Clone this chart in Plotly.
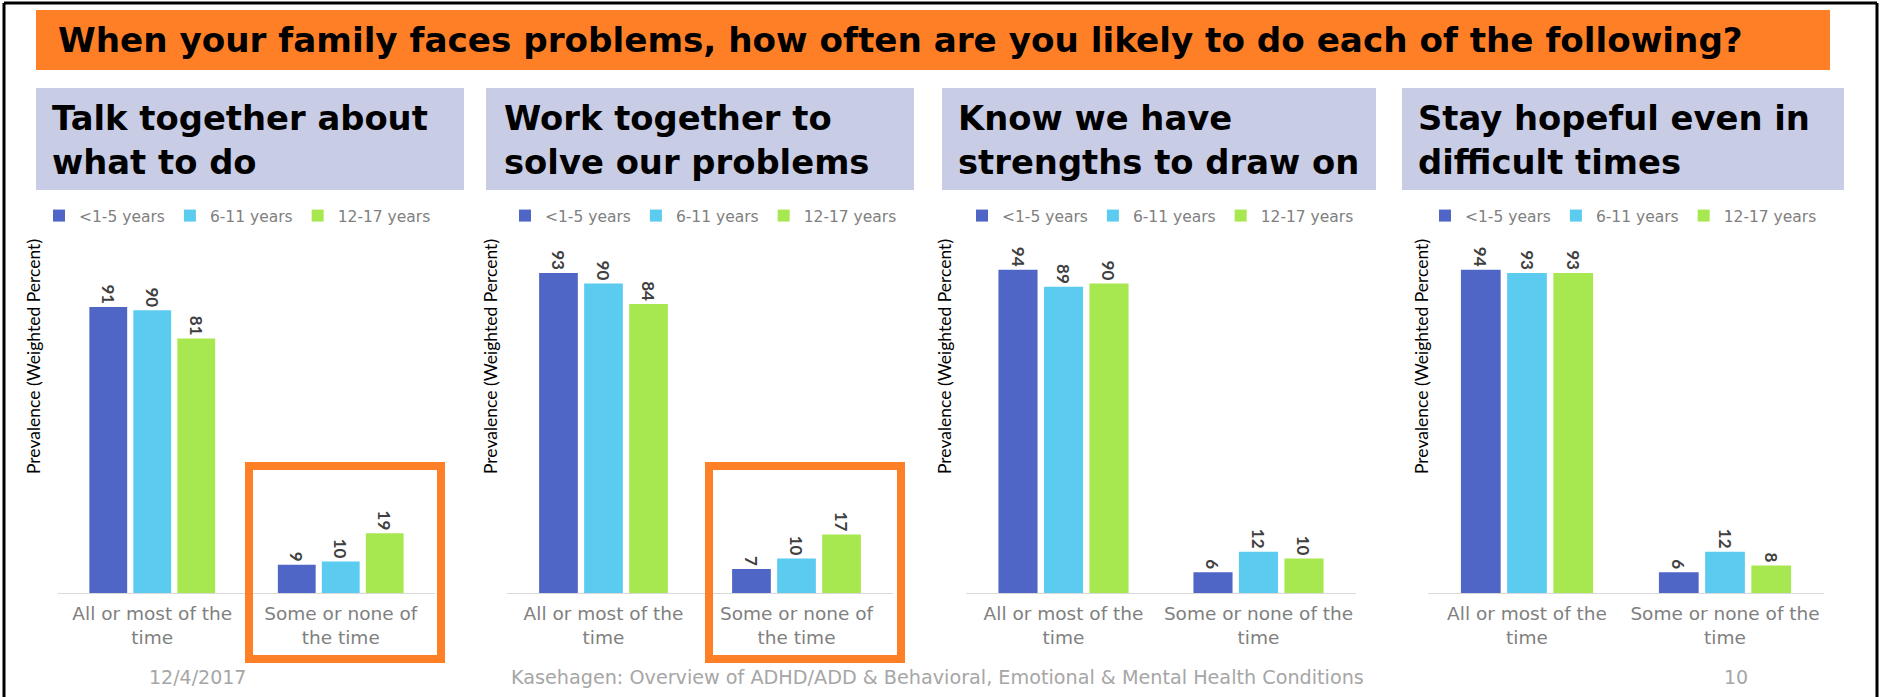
import plotly.graph_objects as go

W, H = 1881, 697

# ---------------- data ----------------
age_groups = ["<1-5 years", "6-11 years", "12-17 years"]
categories = ["All or most of the time", "Some or none of the time"]

panel_titles = [
    "Talk together about<br>what to do",
    "Work together to<br>solve our problems",
    "Know we have<br>strengths to draw on",
    "Stay hopeful even in<br>difficult times",
]

talk_vals = [[91, 9], [90, 10], [81, 19]]
work_vals = [[93, 7], [90, 10], [84, 17]]
know_vals = [[94, 6], [89, 12], [90, 10]]
hope_vals = [[94, 6], [93, 12], [93, 8]]
panel_values = [talk_vals, work_vals, know_vals, hope_vals]

ticks_wrap_a = ["All or most of the<br>time", "Some or none of<br>the time"]
ticks_wrap_b = ["All or most of the<br>time", "Some or none of the<br>time"]
panel_ticks = [ticks_wrap_a, ticks_wrap_a, ticks_wrap_b, ticks_wrap_b]

main_title = "When your family faces problems, how often are you likely to do each of the following?"
y_title = "Prevalence (Weighted Percent)"
footer_date = "12/4/2017"
footer_text = "Kasehagen: Overview of ADHD/ADD & Behavioral, Emotional & Mental Health Conditions"
footer_page = "10"

# ---------------- styles ----------------
bar_colors = ["#4F66C6", "#5BCBF0", "#A7E850"]
orange = "#FF7F27"
lavender = "#C9CCE5"

def fx(px):
    return px / W

def fy(py):
    return 1 - py / H

# plot area extents (pixels)
plot_x = [(58, 435), (507, 893), (966, 1356), (1428, 1824)]
y_ranges = [[0, 109.5], [0, 100], [0, 100], [0, 100]]
base_py, top_py = 593, 249
legend_x = [39, 505, 962, 1425]
ytitle_x = [33, 490, 944, 1421]
box_x = [(36, 464), (486, 914), (942, 1376), (1402, 1844)]
box_text_x = [50, 502, 956, 1416]

fig = go.Figure()

for p in range(4):
    xa = "x" if p == 0 else f"x{p+1}"
    ya = "y" if p == 0 else f"y{p+1}"
    lg = "legend" if p == 0 else f"legend{p+1}"
    for g in range(3):
        fig.add_trace(go.Bar(
            x=categories, y=panel_values[p][g], name=age_groups[g],
            xaxis=xa, yaxis=ya, legend=lg,
            marker=dict(color=bar_colors[g], line=dict(width=0)),
            texttemplate="%{y}", textposition="outside", textangle=90,
            textfont=dict(family="Lato", size=17, color="#404040", weight="bold"),
            cliponaxis=False, constraintext="none",
            hoverinfo="skip",
        ))

layout = dict(
    width=W, height=H, margin=dict(l=0, r=0, t=0, b=0),
    paper_bgcolor="white", plot_bgcolor="white",
    barmode="group", bargap=0.3, bargroupgap=0.14,
    showlegend=True,
    font=dict(family="DejaVu Sans", color="#595959"),
)

for p in range(4):
    sfx = "" if p == 0 else str(p + 1)
    x0, x1 = plot_x[p]
    layout["xaxis" + sfx] = dict(
        domain=[fx(x0), fx(x1)], anchor="y" + sfx,
        showline=True, linecolor="#D9D9D9", linewidth=1,
        showgrid=False, zeroline=False, ticks="",
        tickmode="array", tickvals=categories, ticktext=panel_ticks[p],
        tickfont=dict(family="DejaVu Sans", size=18.5, color="#808080"),
        ticklabelstandoff=4,
        fixedrange=True,
    )
    layout["yaxis" + sfx] = dict(
        domain=[fy(base_py), fy(top_py)], anchor="x" + sfx,
        range=y_ranges[p], visible=False, showgrid=False, zeroline=False,
        fixedrange=True,
    )
    layout["legend" + sfx] = dict(
        orientation="h", x=fx(legend_x[p]), xanchor="left",
        y=fy(216), yanchor="middle",
        font=dict(family="DejaVu Sans", size=15.5, color="#808080"),
        bgcolor="rgba(0,0,0,0)", itemwidth=30, tracegroupgap=0,
        itemclick=False, itemdoubleclick=False,
    )

fig.update_layout(**layout)

shapes = []
# outer border
shapes.append(dict(type="line", xref="paper", yref="paper", x0=fx(4), x1=fx(4), y0=0, y1=fy(3),
                   line=dict(color="black", width=3)))
shapes.append(dict(type="line", xref="paper", yref="paper", x0=fx(4), x1=fx(1877), y0=fy(3), y1=fy(3),
                   line=dict(color="black", width=3)))
shapes.append(dict(type="line", xref="paper", yref="paper", x0=fx(1877), x1=fx(1877), y0=0, y1=fy(3),
                   line=dict(color="black", width=3)))
# title band
shapes.append(dict(type="rect", xref="paper", yref="paper", x0=fx(36), x1=fx(1830), y0=fy(70), y1=fy(10),
                   fillcolor=orange, line=dict(width=0), layer="below"))
# panel title boxes
for (bx0, bx1) in box_x:
    shapes.append(dict(type="rect", xref="paper", yref="paper", x0=fx(bx0), x1=fx(bx1), y0=fy(190), y1=fy(88),
                       fillcolor=lavender, line=dict(width=0), layer="below"))
# highlight boxes
for (hx0, hx1) in [(245, 445), (705, 905)]:
    shapes.append(dict(type="rect", xref="paper", yref="paper", x0=fx(hx0 + 4), x1=fx(hx1 - 4),
                       y0=fy(659), y1=fy(466), fillcolor="rgba(0,0,0,0)",
                       line=dict(color=orange, width=8), layer="above"))

annotations = []
annotations.append(dict(text=main_title, xref="paper", yref="paper", x=fx(56), y=fy(40),
                        xanchor="left", yanchor="middle", showarrow=False,
                        font=dict(family="DejaVu Sans", size=34.2, color="black", weight="bold")))
for p in range(4):
    annotations.append(dict(text=panel_titles[p], xref="paper", yref="paper",
                            x=fx(box_text_x[p]), y=fy(141),
                            xanchor="left", yanchor="middle", align="left", showarrow=False,
                            font=dict(family="DejaVu Sans", size=33.8, color="black", weight="bold")))
    annotations.append(dict(text=y_title, xref="paper", yref="paper", x=fx(ytitle_x[p]), y=fy(357),
                            xanchor="center", yanchor="middle", textangle=-90, showarrow=False,
                            font=dict(family="Lato", size=17.5, color="black")))
for txt, cx, sz in [(footer_date, 197, 19), (footer_text, 937, 19.2), (footer_page, 1736, 19)]:
    annotations.append(dict(text=txt, xref="paper", yref="paper", x=fx(cx), y=fy(677),
                            xanchor="center", yanchor="middle", showarrow=False,
                            font=dict(family="DejaVu Sans", size=sz, color="#A6A6A6")))

fig.update_layout(shapes=shapes, annotations=annotations)
fig.write_html("out.html")
